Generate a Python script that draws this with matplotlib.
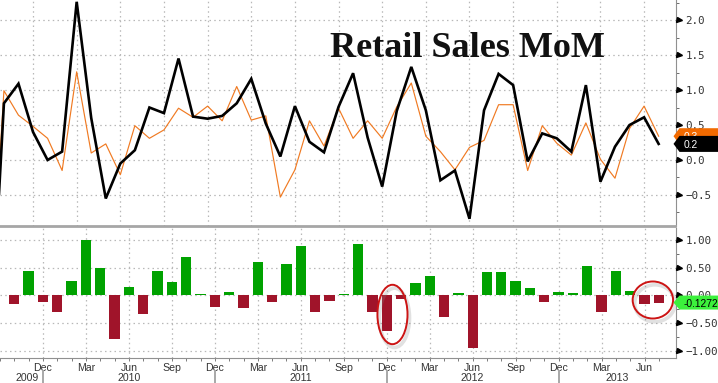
import matplotlib
matplotlib.use("Agg")
import matplotlib.pyplot as plt
import numpy as np
import pandas as pd
from matplotlib.patches import Polygon, Ellipse
from matplotlib.ticker import MultipleLocator, FuncFormatter
from matplotlib.transforms import ScaledTranslation

# ---------------- data ----------------
months = pd.period_range("2009-09", "2013-07", freq="M")
actual = [-3.0, 0.81, 1.09, 0.40, 0.00, 0.12, 2.26, 0.60, -0.55, -0.05, 0.14, 0.75,
          0.67, 1.45, 0.62, 0.59, 0.63, 0.81, 1.16, 0.52, 0.05, 0.77, 0.26, 0.11,
          0.76, 1.24, 0.32, -0.38, 0.70, 1.33, 0.71, -0.29, -0.15, -0.84, 0.71, 1.23,
          1.07, -0.02, 0.38, 0.31, 0.12, 1.07, -0.31, 0.19, 0.50, 0.61, 0.23]
expected = [-2.4, 0.99, 0.64, 0.48, 0.31, -0.15, 1.26, 0.10, 0.23, -0.21, 0.49, 0.31,
            0.43, 0.74, 0.61, 0.77, 0.56, 1.05, 0.57, 0.63, -0.53, -0.14, 0.56, 0.20,
            0.74, 0.31, 0.56, 0.31, 0.76, 1.10, 0.34, 0.12, -0.14, 0.18, 0.28, 0.79,
            0.79, -0.15, 0.49, 0.24, 0.07, 0.53, 0.01, -0.26, 0.45, 0.77, 0.34]
# surprise (actual - survey), from Oct 2009
surprise = [-0.16, 0.44, -0.11, -0.30, 0.27, 1.00, 0.50, -0.78, 0.15, -0.33, 0.45,
            0.25, 0.70, 0.03, -0.20, 0.07, -0.23, 0.60, -0.11, 0.57, 0.89, -0.30,
            -0.10, 0.03, 0.92, -0.30, -0.64, -0.06, 0.23, 0.36, -0.39, 0.04, -0.95,
            0.43, 0.43, 0.27, 0.14, -0.12, 0.07, 0.05, 0.53, -0.30, 0.45, 0.09,
            -0.16, -0.1272]
title = "Retail Sales MoM"
top_yticks = [-0.5, 0.0, 0.5, 1.0, 1.5, 2.0]
bot_yticks = [-1.0, -0.5, 0.0, 0.5, 1.0]

# ---------------- figure ----------------
W, H = 718, 383
fig = plt.figure(figsize=(W / 100, H / 100), dpi=100)
fig.patch.set_facecolor("white")


def fa(x0, y0, x1, y1):
    return [x0 / W, 1 - y1 / H, (x1 - x0) / W, (y1 - y0) / H]


ax1 = fig.add_axes(fa(0, 0, 675.5, 226))
ax2 = fig.add_axes(fa(0, 228, 675.5, 358))

x = np.arange(len(months))
xs = x[1:]
xl = (0.73, 47.16)

quarters = [i for i, p in enumerate(months) if p.month in (3, 6, 9, 12) and i >= 3]
qlabels = [months[i].strftime("%b") for i in quarters]
decs = [i for i, p in enumerate(months) if p.month == 12]

grid_kw = dict(color="#b8b8b8", lw=0.9, linestyle=(0, (1.2, 2.6)))
lab_col = "#333333"

# ---- top panel ----
ax1.plot(x, expected, color="#F07A22", lw=0.85, zorder=3)
ax1.plot(x, actual, color="black", lw=1.9, zorder=4, solid_joinstyle="miter")
ax1.set_xlim(*xl)
ax1.set_ylim(-0.943, 2.286)

# ---- bottom panel ----
s = np.array(surprise)
cols = np.where(s >= 0, "#00A200", "#A0142A")
ax2.bar(xs, s, width=0.72, color=cols, zorder=3)
ax2.set_xlim(*xl)
ax2.set_ylim(-1.126, 1.216)

fmt1 = FuncFormatter(lambda v, p: f"{v:.1f}".replace("-", "\u2212"))
fmt2 = FuncFormatter(lambda v, p: f"{v:.2f}".replace("-", "\u2212"))

for ax, ticks, fmt in ((ax1, top_yticks, fmt1), (ax2, bot_yticks, fmt2)):
    for sp in ("top", "left"):
        ax.spines[sp].set_visible(False)
    ax.spines["right"].set_color("#909090")
    ax.spines["right"].set_linewidth(0.8)
    ax.yaxis.tick_right()
    ax.set_yticks(ticks)
    ax.yaxis.set_major_formatter(fmt)
    ax.yaxis.set_minor_locator(MultipleLocator(0.25))
    ax.tick_params(axis="y", which="major", length=0, pad=7,
                   labelsize=7.8, labelcolor=lab_col)
    ax.tick_params(axis="y", which="minor", length=2.5, width=0.6, color="#555555",
                   direction="out")
    for lbl in ax.get_yticklabels():
        lbl.set_fontfamily("DejaVu Sans Mono")
    ax.set_xticks(quarters)
    ax.grid(True, which="major", **grid_kw)
    ax.set_axisbelow(True)
    tr = ax.get_yaxis_transform() + ScaledTranslation(0.03, 0, fig.dpi_scale_trans)
    ax.plot([1.0] * len(ticks), ticks, marker=">", ms=3.6, color="black", ls="none",
            transform=tr, clip_on=False, zorder=6)

ax1.spines["bottom"].set_color("#a6a6a6")
ax1.spines["bottom"].set_linewidth(2.0)
ax1.tick_params(axis="x", which="both", length=0, labelbottom=False)

ax2.spines["bottom"].set_color("#909090")
ax2.spines["bottom"].set_linewidth(0.8)
ax2.set_xticks(quarters, labels=qlabels)
ax2.set_xticks(x, minor=True)
ax2.tick_params(axis="x", which="both", length=2.5, width=0.6, color="#666666",
                direction="out", pad=1.2, labelsize=7.6, labelcolor=lab_col)
for lbl in ax2.get_xticklabels():
    lbl.set_fontfamily("Liberation Sans")

# year labels and separators
xtr = ax2.get_xaxis_transform()
edges = [xl[0]] + decs + [xl[1]]
for a, b in zip(edges[:-1], edges[1:]):
    mid = 0.5 * (a + b)
    if a in decs:
        yr = months[int(a)].year + 1
    else:
        yr = months[1].year
    ax2.text(mid, -(378 - 358) / 130, str(yr), transform=xtr, ha="center",
             va="center", fontsize=7.6, color=lab_col, fontfamily="Liberation Sans")
for d in decs:
    ax2.plot([d, d], [-(371 - 358) / 130, -(383 - 358) / 130], transform=xtr,
             color="#a8a8a8", lw=1.4, clip_on=False)

# title
fig.text(330 / W, 1 - 57 / H, title, fontfamily="Liberation Serif",
         fontweight="bold", fontsize=26, va="baseline", ha="left", color="#111111")

# red ellipses
for (cx, cy, w, h) in ((27.4, -0.342, 2.1, 1.07), (45.58, -0.081, 2.82, 0.667)):
    ax2.add_patch(Ellipse((cx + 0.14, cy - 0.06), w, h, fill=False, ec="#888888",
                          lw=2.6, alpha=0.25, clip_on=False, zorder=7))
    ax2.add_patch(Ellipse((cx, cy), w, h, fill=False, ec="#CC1414", lw=1.4,
                          clip_on=False, zorder=8))

# value tags on the right
inv = fig.transFigure.inverted()


def tag(ax, value, text, fc, tc, h, z):
    x0, y0 = ax.transData.transform((xl[1], value))
    pts = [(x0 - 2, y0), (x0 + 4, y0 + h / 2), (W + 2, y0 + h / 2),
           (W + 2, y0 - h / 2), (x0 + 4, y0 - h / 2)]
    pts = inv.transform(pts)
    fig.add_artist(Polygon(pts, closed=True, fc=fc, ec="none", zorder=z,
                           transform=fig.transFigure))
    tx, ty = inv.transform((x0 + 8, y0))
    fig.text(tx, ty, text, color=tc, fontsize=7.4, fontfamily="Liberation Sans",
             ha="left", va="center_baseline", zorder=z + 0.5)


tag(ax1, expected[-1], f"{expected[-1]:.1f}", "#F26A00", "white", 16, 10)
tag(ax1, actual[-1], f"{actual[-1]:.1f}", "black", "white", 16, 11)
tag(ax2, surprise[-1], f"{surprise[-1]:.4f}", "#3CF03C", "black", 14, 10)

fig.savefig("out.png", dpi=100, facecolor="white")
